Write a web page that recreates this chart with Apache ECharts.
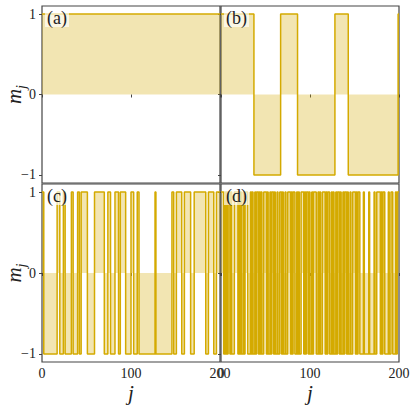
<!DOCTYPE html>
<html>
<head>
<meta charset="utf-8">
<script src="https://cdn.jsdelivr.net/npm/echarts@6/dist/echarts.min.js"></script>
<style>
  html, body { margin: 0; padding: 0; background: #fff; }
  #chart { width: 416px; height: 407px; }
</style>
</head>
<body>
<div id="chart"></div>
<script>
// m_j = +1 / -1 along the chain j = 0..200, stored as the start value
// and the j positions where the sign flips
const J_MAX = 200;
const panelLabels = ['(a)', '(b)', '(c)', '(d)'];
const startValues = [1, 1, 1, 1];
const flipsA = [];
const flipsB = [37, 67, 86, 128, 143, 199];
const flipsC = [2, 17, 20, 24, 26, 33, 35, 40, 42, 44, 51, 59, 70, 74, 77, 82, 86, 88, 94, 100,
  103, 107, 109, 127, 128, 146, 148, 151, 157, 160, 167, 171, 184, 187, 193, 196];
const flipsD = [3, 4, 5, 6, 7, 8, 10, 11, 12, 15, 19, 20, 21, 22, 23, 25, 26, 27, 30, 33, 34, 35, 36,
  38, 39, 40, 42, 43, 44, 45, 46, 48, 51, 52, 53, 55, 56, 57, 59, 60, 61, 63, 64, 66, 68, 69, 70,
  72, 73, 75, 78, 79, 80, 81, 83, 85, 86, 87, 88, 90, 93, 94, 95, 96, 98, 99, 100, 102, 103, 104,
  107, 109, 110, 111, 112, 114, 117, 118, 119, 120, 122, 124, 125, 126, 127, 129, 130, 131, 133,
  134, 135, 137, 138, 139, 141, 142, 143, 145, 146, 148, 151, 152, 153, 154, 156, 160, 161, 166,
  167, 172, 173, 175, 179, 180, 181, 182, 184, 188, 189, 191, 193, 196, 197, 198];
const xTicks = [0, 100, 200];
const yTicks = [-1, 0, 1];

const allFlips = [flipsA, flipsB, flipsC, flipsD];

function stepPoints(start, flips) {
  let v = start;
  const pts = [[0, v]];
  flips.forEach(f => {
    v = -v;
    pts.push([f, v]);
  });
  pts.push([J_MAX, v]);
  return pts;
}

const lineColor = '#d4aa00';
const fillColor = 'rgba(212,170,0,0.3)';
const serif = 'Liberation Serif';

// svg renderer keeps the sub-pixel steps of panel (d) vertical
let myChart = echarts.init(document.getElementById('chart'), null, {renderer: 'svg'});

const grids = [
  {left: 42, top: 6, width: 178, height: 177},
  {left: 221, top: 6, width: 178, height: 177},
  {left: 42, top: 184, width: 178, height: 178},
  {left: 221, top: 184, width: 178, height: 178}
].map(g => Object.assign(g, {
  show: true,
  containLabel: false,
  outerBoundsMode: 'none',
  borderColor: '#444',
  borderWidth: 1.2,
  backgroundColor: 'transparent'
}));

const xAxes = grids.map((g, i) => ({
  type: 'value',
  gridIndex: i,
  min: 0,
  max: J_MAX,
  interval: 100,
  splitLine: {show: false},
  axisLine: {show: false},
  axisTick: {show: true, inside: false, length: 3, lineStyle: {color: '#444'}},
  axisLabel: {
    show: i >= 2,
    margin: 4,
    fontFamily: serif,
    fontSize: 14,
    color: '#222',
    customValues: xTicks
  },
  name: i >= 2 ? 'j' : '',
  nameLocation: 'middle',
  nameGap: 20,
  nameMoveOverlap: false,
  nameTextStyle: {fontFamily: serif, fontStyle: 'italic', fontSize: 21, color: '#222'}
}));

const yAxes = grids.map((g, i) => ({
  type: 'value',
  gridIndex: i,
  min: -1.1,
  max: 1.1,
  splitLine: {show: false},
  axisLine: {show: false},
  axisTick: {show: true, inside: false, length: 3, lineStyle: {color: '#444'}, customValues: yTicks},
  axisLabel: {
    show: i % 2 === 0,
    margin: 6,
    fontFamily: serif,
    fontSize: 14,
    color: '#222',
    customValues: yTicks,
    formatter: v => (v < 0 ? '\u2212' + Math.abs(v) : String(v))
  },
  name: i % 2 === 0 ? '{m|m}{j|j}' : '',
  nameLocation: 'middle',
  nameRotate: 90,
  nameGap: 14,
  nameMoveOverlap: false,
  nameTextStyle: {
    rich: {
      m: {fontFamily: serif, fontStyle: 'italic', fontSize: 21, color: '#222', verticalAlign: 'bottom', padding: [0, 0, 4, 0]},
      j: {fontFamily: serif, fontStyle: 'italic', fontSize: 14, color: '#222', verticalAlign: 'bottom'}
    }
  }
}));

const series = allFlips.map((flips, i) => ({
  type: 'line',
  xAxisIndex: i,
  yAxisIndex: i,
  step: 'end',
  symbol: 'none',
  silent: true,
  lineStyle: {color: lineColor, width: 1.5, join: 'bevel'},
  areaStyle: {color: fillColor, opacity: 1, origin: 0},
  data: stepPoints(startValues[i], flips)
}));

const titles = grids.map((g, i) => ({
  text: panelLabels[i],
  left: g.left + 3,
  top: g.top + 2,
  padding: [1, 2, 0, 2],
  backgroundColor: 'rgba(255,255,255,0.65)',
  textStyle: {fontFamily: serif, fontSize: 18, fontWeight: 'normal', color: '#222'}
}));

let option = {
  backgroundColor: '#ffffff',
  animation: false,
  title: titles,
  grid: grids,
  xAxis: xAxes,
  yAxis: yAxes,
  series: series
};
myChart.setOption(option);
</script>
</body>
</html>
